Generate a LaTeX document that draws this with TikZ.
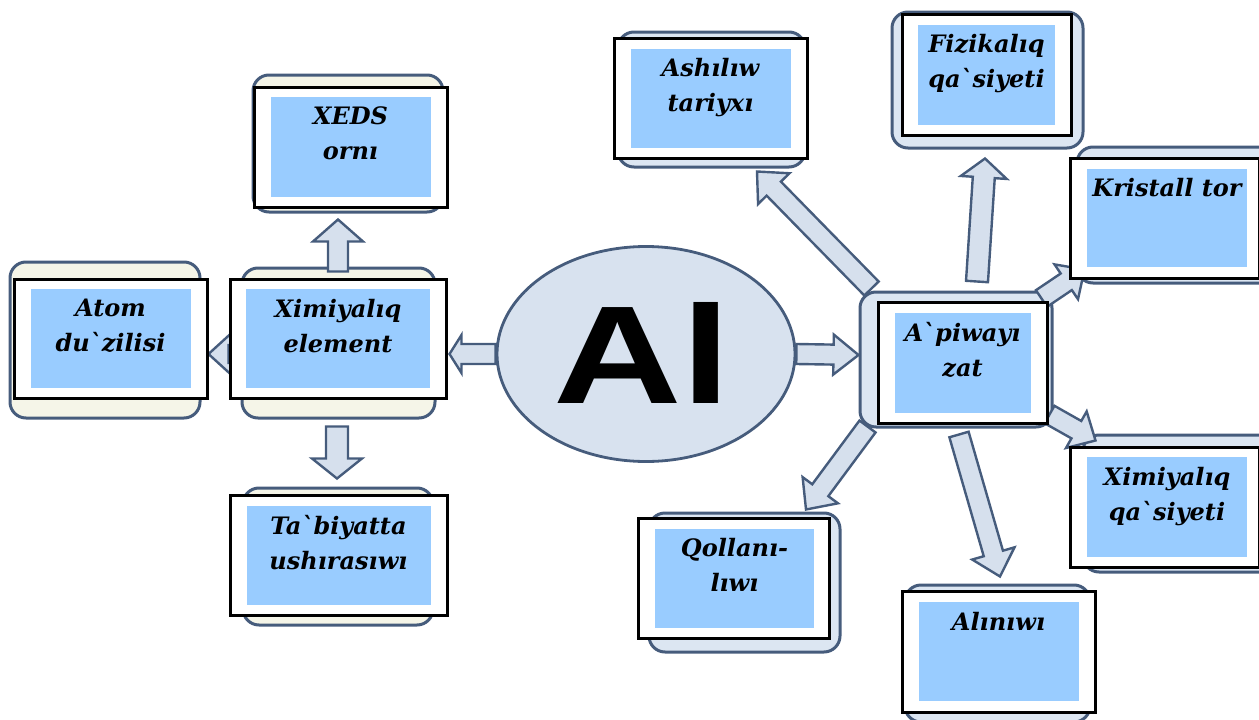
\documentclass[tikz,border=0pt]{standalone}
\usepackage{fontspec}
\usepackage{graphicx}
\setmainfont{DejaVu Serif}[Ligatures=TeXOff]
\newfontfamily\symfont{Liberation Sans}
\usetikzlibrary{calc,shapes.geometric}

\definecolor{frame}{RGB}{70,92,124}
\definecolor{paleblue}{RGB}{153,204,255}
\definecolor{cream}{RGB}{245,245,232}
\definecolor{mist}{RGB}{220,230,242}
\definecolor{arrfill}{RGB}{214,224,237}
\definecolor{ellfill}{RGB}{216,226,239}

\pgfdeclarelayer{back}
\pgfdeclarelayer{mid}
\pgfsetlayers{back,mid,main}

% block arrow: from, to, shaft half width, head half width, head length
\newcommand\blockarrow[5]{%
  \coordinate (hb) at ($(#2)!#5!(#1)$);
  \draw[blockarr] ($(#1)!#3!90:(#2)$) -- ($(hb)!#3!90:(#2)$) -- ($(hb)!#4!90:(#2)$) -- (#2)
    -- ($(hb)!#4!-90:(#2)$) -- ($(hb)!#3!-90:(#2)$) -- ($(#1)!#3!-90:(#2)$) -- cycle;}

\begin{document}
\begin{tikzpicture}[x=1pt,y=-1pt,
  whitebox/.style={draw=black,line width=3pt,fill=white,inner sep=0pt},
  bluebox/.style={fill=paleblue,inner sep=0pt},
  topictext/.style={font=\fontsize{24}{35}\selectfont\bfseries\itshape,align=center,inner sep=0pt,anchor=north},
  backbox/.style={draw=frame,line width=3pt,rounded corners=16pt},
  blockarr/.style={draw=frame,fill=arrfill,line width=2.4pt,line join=miter}]
  \useasboundingbox (0,0) rectangle (1259,720);

  % central symbol
  \node[ellipse,draw=frame,line width=2.8pt,fill=ellfill,minimum width=298pt,minimum height=215pt] (el) at (646,354) {};
  \node[inner sep=0pt,anchor=base] (alsym) at (642,403) {\resizebox{178pt}{101pt}{\symfont\bfseries Al}};

  % left group
  \node[whitebox,minimum width=193pt,minimum height=119pt] (atom) at (110.5,338.5) {};
  \node[bluebox,minimum width=160pt,minimum height=99pt] (atomin) at (atom.center) {};
  \node[topictext] (atomtxt) at ($(atomin.north)+(0,10)$) {Atom\\du`zilisi};

  \node[whitebox,minimum width=216pt,minimum height=119pt] (xim) at (338,338.5) {};
  \node[bluebox,minimum width=184pt,minimum height=99pt] (ximin) at (xim.center) {};
  \node[topictext] (ximtxt) at ($(ximin.north)+(0,10)$) {Ximiyalıq\\element};

  \node[whitebox,minimum width=193pt,minimum height=120pt] (xeds) at (350.5,147) {};
  \node[bluebox,minimum width=160pt,minimum height=100pt] (xedsin) at (xeds.center) {};
  \node[topictext] (xedstxt) at ($(xedsin.north)+(0,10)$) {XEDS\\ornı};

  \node[whitebox,minimum width=217pt,minimum height=120pt] (tab) at (338.5,555) {};
  \node[bluebox,minimum width=184pt,minimum height=99pt] (tabin) at (tab.center) {};
  \node[topictext] (tabtxt) at ($(tabin.north)+(0,10)$) {Ta`biyatta\\ushırasıwı};

  % right group
  \node[whitebox,minimum width=169pt,minimum height=121pt] (piw) at (962.5,362.5) {};
  \node[bluebox,minimum width=136pt,minimum height=100pt] (piwin) at (piw.center) {};
  \node[topictext] (piwtxt) at ($(piwin.north)+(0,10)$) {A`piwayı\\zat};

  \node[whitebox,minimum width=193pt,minimum height=120pt] (ash) at (710.5,98) {};
  \node[bluebox,minimum width=160pt,minimum height=99pt] (ashin) at (ash.center) {};
  \node[topictext] (ashtxt) at ($(ashin.north)+(0,10)$) {Ashılıw\\tariyxı};

  \node[whitebox,minimum width=169pt,minimum height=121pt] (fiz) at (986.5,74.5) {};
  \node[bluebox,minimum width=137pt,minimum height=100pt] (fizin) at (fiz.center) {};
  \node[topictext] (fiztxt) at ($(fizin.north)+(0,10)$) {Fizikalıq\\qa`siyeti};

  \node[whitebox,minimum width=189pt,minimum height=120pt] (kri) at (1164.5,218) {};
  \node[bluebox,minimum width=160pt,minimum height=98pt] (kriin) at ([xshift=2.5pt]kri.center) {};
  \node[topictext] (kritxt) at ($(kriin.north)+(0,9)$) {Kristall tor};

  \node[whitebox,minimum width=189pt,minimum height=120pt] (xq) at (1164.5,507) {};
  \node[bluebox,minimum width=160pt,minimum height=100pt] (xqin) at ([xshift=2.5pt]xq.center) {};
  \node[topictext] (xqtxt) at ($(xqin.north)+(0,10)$) {Ximiyalıq\\qa`siyeti};

  \node[whitebox,minimum width=191pt,minimum height=120pt] (qol) at (733.5,578) {};
  \node[bluebox,minimum width=159pt,minimum height=99pt] (qolin) at ([xshift=1pt]qol.center) {};
  \node[topictext] (qoltxt) at ($(qolin.north)+(0,10)$) {Qollanı-\\lıwı};

  \node[whitebox,minimum width=193pt,minimum height=121pt] (aln) at (998.5,651.5) {};
  \node[bluebox,minimum width=160pt,minimum height=99pt] (alnin) at (aln.center) {};
  \node[topictext] (alntxt) at ($(alnin.north)+(0,10)$) {Alınıwı};

  % rounded frames behind the boxes
  \begin{pgfonlayer}{back}
    \draw[backbox,fill=cream] (10,262) rectangle (200,418);
    \draw[backbox,fill=cream] (242,268) rectangle (435,418);
    \draw[backbox,fill=cream] (253,75) rectangle (443,212);
    \draw[backbox,fill=cream] (243,488) rectangle (433,625);
    \draw[backbox,fill=mist] (860,292) rectangle (1052,427);
    \draw[backbox,fill=mist] (618,32) rectangle (805,167);
    \draw[backbox,fill=mist] (892,12) rectangle (1083,148);
    \draw[backbox,fill=mist] (1077,147) rectangle (1280,283);
    \draw[backbox,fill=mist] (1083,435) rectangle (1280,572);
    \draw[backbox,fill=mist] (649,513) rectangle (840,652);
    \draw[backbox,fill=mist] (905,585) rectangle (1090,722);
  \end{pgfonlayer}

  % arrow ends
  \coordinate (a1) at ($(xim.west)+(0,15.5)$);  \coordinate (b1) at ($(atom.east)+(0,15.5)$);
  \coordinate (a2) at (el.west);                \coordinate (b2) at ($(xim.east)+(2,15.5)$);
  \coordinate (a3) at ($(xim.north)+(0,-6)$);   \coordinate (b3) at ($(xeds.south)+(-12.5,11)$);
  \coordinate (a4) at ($(xim.south)+(-1,27)$);  \coordinate (b4) at ($(tab.north)+(-1.5,-15)$);
  \coordinate (a5) at (el.east);                \coordinate (b5) at ($(piw.west)+(-18,-7.5)$);
  \coordinate (a6) at ($(piw.north west)+(-5,-12)$); \coordinate (b6) at ($(ash.south)+(46.5,12)$);
  \coordinate (a7) at ($(piw.north)+(14.5,-19)$);    \coordinate (b7) at ($(fiz.south)+(-1.5,22)$);
  \coordinate (a8) at ($(piw.north east)+(-7,-2)$);  \coordinate (b8) at ($(kri.south west)+(16,-10)$);
  \coordinate (a9) at ($(piw.south east)+(1,-10)$);  \coordinate (b9) at ($(xq.north west)+(27,-5)$);
  \coordinate (a10) at ($(piw.south west)+(-9,2)$);  \coordinate (b10) at ($(qol.north)+(72.5,-7)$);
  \coordinate (a11) at ($(piw.south)+(-3.5,10)$);    \coordinate (b11) at ($(aln.north)+(1.5,-13)$);

  \begin{pgfonlayer}{mid}
    \blockarrow{a1}{b1}{9pt}{21pt}{23pt}
    \blockarrow{a2}{b2}{10pt}{19pt}{12pt}
    \blockarrow{a3}{b3}{10pt}{25pt}{22pt}
    \blockarrow{a4}{b4}{11pt}{25pt}{20pt}
    \blockarrow{a5}{b5}{10pt}{20pt}{25pt}
    \blockarrow{a6}{b6}{10pt}{22pt}{24pt}
    \blockarrow{a7}{b7}{11pt}{23pt}{19pt}
    \blockarrow{a8}{b8}{10pt}{21pt}{22pt}
    \blockarrow{a9}{b9}{10pt}{21pt}{22pt}
    \blockarrow{a10}{b10}{10pt}{22pt}{24pt}
    \blockarrow{a11}{b11}{10pt}{22pt}{24pt}
  \end{pgfonlayer}
\end{tikzpicture}
\end{document}
